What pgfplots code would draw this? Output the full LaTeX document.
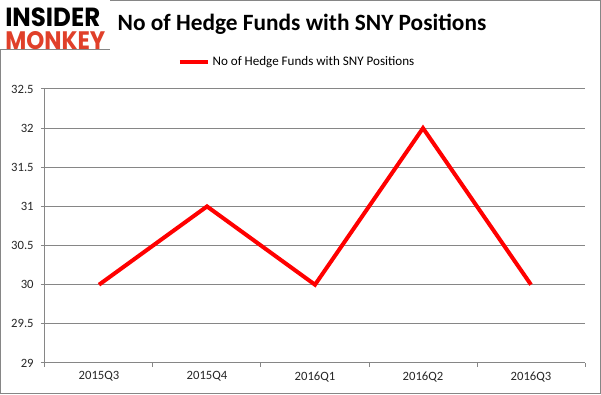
\documentclass[border=0pt]{standalone}
\usepackage{fontspec}
\usepackage{graphicx}
\usepackage{pgfplots}
\pgfplotsset{compat=1.18}
\setmainfont{Carlito}
\newfontfamily\logofont{Poppins}
\definecolor{gridgray}{HTML}{868686}
\definecolor{logored}{HTML}{E0402A}
\begin{document}
\begin{tikzpicture}
\path[use as bounding box] (0,0) rectangle (450.75pt,-296.25pt);
\draw[gridgray,line width=0.75pt] (0.375pt,-0.375pt) rectangle (450.375pt,-295.5pt);
\fill[white] (0,0) rectangle (82.5pt,-37.5pt);
\draw[gridgray,line width=0.75pt] (0,-37.5pt) -- (82.5pt,-37.5pt);
\node[anchor=north west,inner sep=0pt] at (3.75pt,-6pt) {\vbox{\offinterlineskip\hbox{\resizebox{71.25pt}{14pt}{\logofont\bfseries INSIDER}}\kern3pt\hbox{\color{logored}\resizebox{75pt}{13.5pt}{\logofont\bfseries MONKEY}}}};
\node[font=\fontsize{17.5pt}{20pt}\selectfont\bfseries] at (226.5pt,-18pt) {No of Hedge Funds with SNY Positions};
\begin{axis}[
  at={(33.75pt,-272.25pt)}, anchor=south west,
  scale only axis, width=405pt, height=205.5pt,
  xmin=-0.5, xmax=4.5, ymin=29, ymax=32.5,
  axis x line=bottom, axis y line=left,
  axis line style={gridgray,line width=0.75pt,-},
  xtick={-0.5,0.5,1.5,2.5,3.5,4.5}, xticklabels={},
  extra x ticks={0,1,2,3,4},
  extra x tick labels={2015Q3,2015Q4,2016Q1,2016Q2,2016Q3},
  extra x tick style={major tick length=0pt, tick style={draw=none}},
  ytick={29,29.5,30,30.5,31,31.5,32,32.5},
  yticklabels={29,29.5,30,30.5,31,31.5,32,32.5},
  ymajorgrids, grid style={gridgray,line width=0.75pt},
  tick align=outside, major tick length=3pt,
  tick style={gridgray,line width=0.75pt},
  tick label style={font=\fontsize{9.5pt}{11pt}\selectfont, text=black!85},
  xticklabel style={yshift=-3pt},
  yticklabel style={xshift=-2pt},
  legend style={at={(0.4675,1.0985)}, anchor=center, draw=none, fill=none,
    font=\fontsize{9.8pt}{11pt}\selectfont, inner sep=0pt},
  legend image code/.code={\draw[#1,line width=3pt] (0pt,0pt) -- (21pt,0pt);},
  clip=false,
]
\addplot[red, line width=3pt, mark=none] coordinates {(0,30) (1,31) (2,30) (3,32) (4,30)};
\addlegendentry{No of Hedge Funds with SNY Positions}
\end{axis}
\end{tikzpicture}
\end{document}
